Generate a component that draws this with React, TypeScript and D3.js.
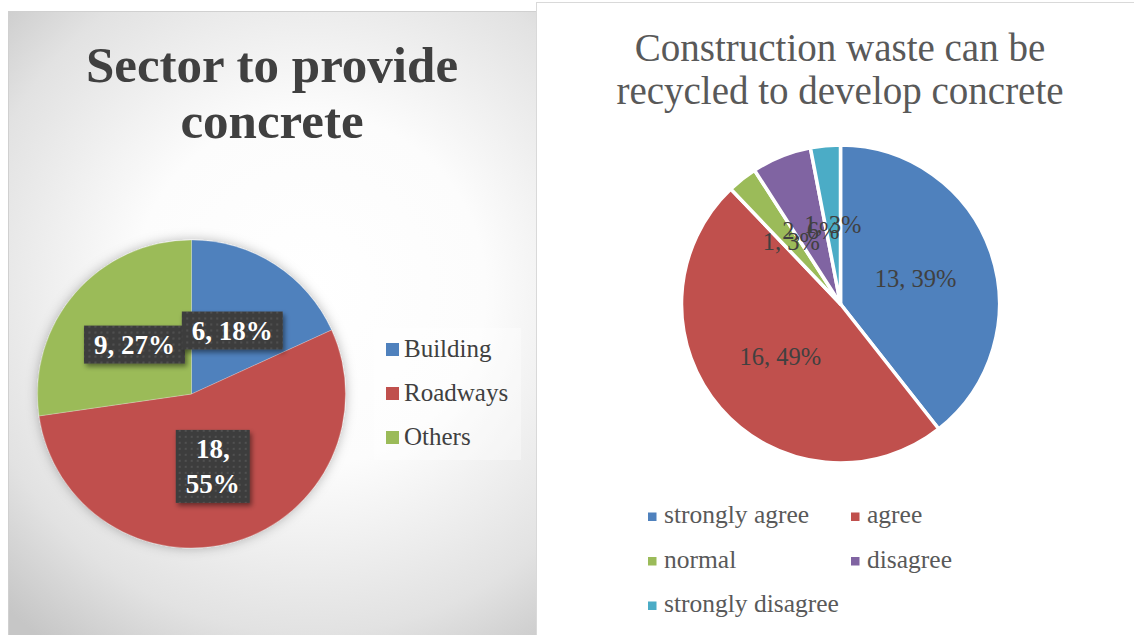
import React, { useEffect, useRef } from "react";
import * as d3 from "d3";

// ---------- data ----------
const sectorTitle = ["Sector to provide", "concrete"];
const sectorCategories = ["Building", "Roadways", "Others"];
const sectorValues = [6, 18, 9];
const sectorPercents = ["18%", "55%", "27%"];
const sectorLabelWrapped = [false, true, false];

const recycleTitle = ["Construction waste can be", "recycled to develop concrete"];
const recycleCategories = ["strongly agree", "agree", "normal", "disagree", "strongly disagree"];
const recycleValues = [13, 16, 1, 2, 1];
const recyclePercents = ["39%", "49%", "3%", "6%", "3%"];

const palette = ["#4f81bd", "#c0504d", "#9bbb59", "#8064a2", "#4bacc6"];
const FONT = "'Liberation Serif', 'Times New Roman', serif";

export default function App() {
  const ref = useRef<SVGSVGElement>(null);

  useEffect(() => {
    const svg = d3.select(ref.current);
    svg.selectAll("*").remove();
    const defs = svg.append("defs");

    // background gradient for left panel
    const rg = defs
      .append("radialGradient")
      .attr("id", "bgGrad")
      .attr("gradientUnits", "userSpaceOnUse")
      .attr("cx", 310)
      .attr("cy", 290)
      .attr("r", 440);
    ([
      [0, "#ffffff"],
      [0.4, "#fcfcfc"],
      [0.78, "#e2e2e2"],
      [1, "#c6c6c6"],
    ] as [number, string][]).forEach(([o, c]) =>
      rg.append("stop").attr("offset", o).attr("stop-color", c)
    );

    // dotted pattern for label boxes
    const pat = defs
      .append("pattern")
      .attr("id", "dots")
      .attr("width", 6)
      .attr("height", 6)
      .attr("patternUnits", "userSpaceOnUse");
    pat.append("rect").attr("width", 6).attr("height", 6).attr("fill", "#3e3e3e");
    pat.append("circle").attr("cx", 3).attr("cy", 3).attr("r", 0.9).attr("fill", "#595959");

    const pieShadow = defs
      .append("filter")
      .attr("id", "pieShadow")
      .attr("x", "-20%")
      .attr("y", "-20%")
      .attr("width", "140%")
      .attr("height", "140%");
    pieShadow
      .append("feDropShadow")
      .attr("dx", 0)
      .attr("dy", 0)
      .attr("stdDeviation", 6)
      .attr("flood-color", "#000")
      .attr("flood-opacity", 0.28);

    const boxShadow = defs
      .append("filter")
      .attr("id", "boxShadow")
      .attr("x", "-20%")
      .attr("y", "-20%")
      .attr("width", "140%")
      .attr("height", "150%");
    boxShadow
      .append("feDropShadow")
      .attr("dx", 2)
      .attr("dy", 3)
      .attr("stdDeviation", 2.5)
      .attr("flood-color", "#000")
      .attr("flood-opacity", 0.45);

    // ---------- left panel ----------
    svg
      .append("rect")
      .attr("x", 8.5)
      .attr("y", 11.5)
      .attr("width", 528)
      .attr("height", 640)
      .attr("fill", "url(#bgGrad)")
      .attr("stroke", "#d0d0d0");

    svg
      .append("g")
      .selectAll("text")
      .data(sectorTitle)
      .join("text")
      .attr("x", 272)
      .attr("y", (_, i) => 82 + i * 56)
      .attr("text-anchor", "middle")
      .attr("font-family", FONT)
      .attr("font-weight", "bold")
      .attr("font-size", 51)
      .attr("fill", "#404040")
      .text((d) => d);

    const r1 = 154;
    const pie1 = d3.pie<number>().sort(null).value((d) => d);
    const arcs1 = pie1(sectorValues);
    const arc1 = d3.arc<d3.PieArcDatum<number>>().innerRadius(0).outerRadius(r1);
    const lab1 = d3.arc<d3.PieArcDatum<number>>().innerRadius(r1 * 0.49).outerRadius(r1 * 0.49);
    const g1 = svg.append("g").attr("transform", "translate(191.5,394)");
    g1.append("g")
      .attr("filter", "url(#pieShadow)")
      .selectAll("path")
      .data(arcs1)
      .join("path")
      .attr("d", arc1)
      .attr("fill", (_, i) => palette[i])
      .attr("stroke", "#ffffff")
      .attr("stroke-opacity", 0.4)
      .attr("stroke-width", 0.6);

    // draw labels in reverse so the first slice's label sits on top
    [...arcs1.keys()].reverse().forEach((i) => {
      const a = arcs1[i];
      const [cx, cy] = lab1.centroid(a);
      const lg = g1.append("g");
      const lines = sectorLabelWrapped[i]
        ? [`${sectorValues[i]},`, sectorPercents[i]]
        : [`${sectorValues[i]}, ${sectorPercents[i]}`];
      const box = lg.append("rect").attr("fill", "url(#dots)").attr("filter", "url(#boxShadow)");
      const tg = lg.append("g");
      lines.forEach((t, j) => {
        tg.append("text")
          .attr("x", 0)
          .attr("y", j * 35)
          .attr("text-anchor", "middle")
          .attr("font-family", FONT)
          .attr("font-weight", "bold")
          .attr("font-size", 27)
          .attr("fill", "#ffffff")
          .text(t);
      });
      const bb = (tg.node() as SVGGElement).getBBox();
      const padX = 10,
        padY = 4;
      box
        .attr("x", bb.x - padX)
        .attr("y", bb.y - padY)
        .attr("width", bb.width + padX * 2)
        .attr("height", bb.height + padY * 2);
      lg.attr(
        "transform",
        `translate(${cx - (bb.x + bb.width / 2)},${cy - (bb.y + bb.height / 2)})`
      );
    });

    // left legend
    const leg1 = svg.append("g");
    leg1
      .append("rect")
      .attr("x", 374)
      .attr("y", 328)
      .attr("width", 147)
      .attr("height", 132)
      .attr("fill", "#ffffff")
      .attr("opacity", 0.35);
    sectorCategories.forEach((c, i) => {
      leg1
        .append("rect")
        .attr("x", 386)
        .attr("y", 343 + i * 44)
        .attr("width", 13)
        .attr("height", 13)
        .attr("fill", palette[i]);
      leg1
        .append("text")
        .attr("x", 404)
        .attr("y", 357 + i * 44)
        .attr("font-family", FONT)
        .attr("font-size", 25)
        .attr("fill", "#404040")
        .text(c);
    });

    // ---------- right panel ----------
    svg
      .append("rect")
      .attr("x", 536.5)
      .attr("y", 2.5)
      .attr("width", 620)
      .attr("height", 650)
      .attr("fill", "#ffffff")
      .attr("stroke", "#d9d9d9");

    svg
      .append("g")
      .selectAll("text")
      .data(recycleTitle)
      .join("text")
      .attr("x", 840)
      .attr("y", (_, i) => 61 + i * 43)
      .attr("text-anchor", "middle")
      .attr("font-family", FONT)
      .attr("font-size", 39)
      .attr("fill", "#595959")
      .text((d) => d);

    const r2 = 159;
    const pie2 = d3.pie<number>().sort(null).value((d) => d);
    const arcs2 = pie2(recycleValues);
    const arc2 = d3.arc<d3.PieArcDatum<number>>().innerRadius(0).outerRadius(r2);
    const lab2 = d3.arc<d3.PieArcDatum<number>>().innerRadius(r2 * 0.5).outerRadius(r2 * 0.5);
    const g2 = svg.append("g").attr("transform", "translate(840.5,304)");
    g2.selectAll("path")
      .data(arcs2)
      .join("path")
      .attr("d", arc2)
      .attr("fill", (_, i) => palette[i])
      .attr("stroke", "#ffffff")
      .attr("stroke-width", 3.5)
      .attr("stroke-linejoin", "round");
    g2.selectAll("text")
      .data(arcs2)
      .join("text")
      .attr("transform", (d) => `translate(${lab2.centroid(d)})`)
      .attr("dy", "0.35em")
      .attr("text-anchor", "middle")
      .attr("font-family", FONT)
      .attr("font-size", 24.5)
      .attr("fill", "#404040")
      .text((_, i) => `${recycleValues[i]}, ${recyclePercents[i]}`);

    // right legend
    const leg2 = svg.append("g");
    recycleCategories.forEach((c, i) => {
      const col = i % 2;
      const row = Math.floor(i / 2);
      const x = 648 + col * 203;
      const y = 512.5 + row * 44.5;
      leg2
        .append("rect")
        .attr("x", x)
        .attr("y", y)
        .attr("width", 8.5)
        .attr("height", 8.5)
        .attr("fill", palette[i]);
      leg2
        .append("text")
        .attr("x", x + 16)
        .attr("y", y + 10.5)
        .attr("font-family", FONT)
        .attr("font-size", 25.5)
        .attr("fill", "#595959")
        .text(c);
    });
  }, []);

  return (
    <div style={{ position: "absolute", left: 0, top: 0 }}>
      <svg ref={ref} width={1134} height={635} style={{ display: "block" }} />
    </div>
  );
}
